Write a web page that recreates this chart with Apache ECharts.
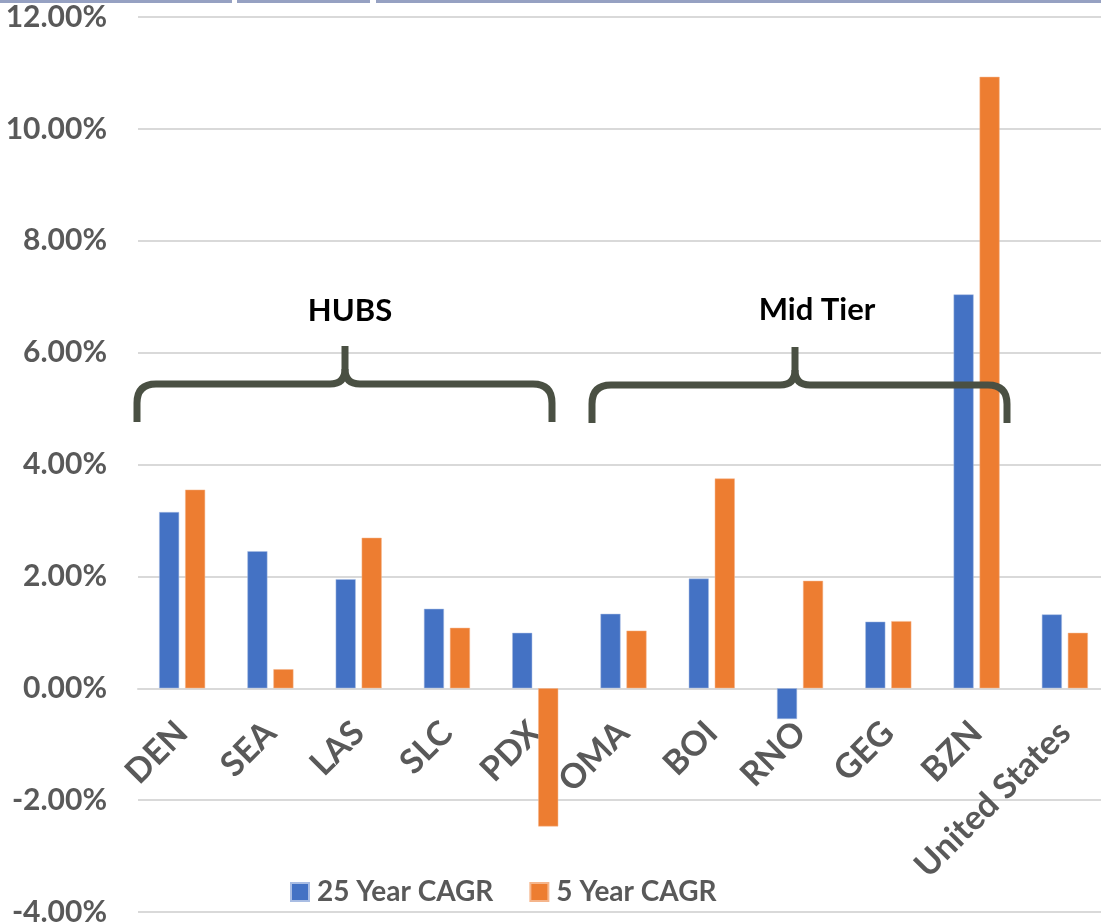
<!DOCTYPE html>
<html>
<head>
<meta charset="utf-8">
<script src="https://cdn.jsdelivr.net/npm/echarts@6/dist/echarts.min.js"></script>
<style>
  html, body { margin: 0; padding: 0; background: #fff; }
  #main { width: 1101px; height: 923px; }
</style>
</head>
<body>
<div id="main"></div>
<script>
var airports = ['DEN', 'SEA', 'LAS', 'SLC', 'PDX', 'OMA', 'BOI', 'RNO', 'GEG', 'BZN', 'United States'];
var cagr25 = [3.15, 2.45, 1.95, 1.42, 0.99, 1.33, 1.96, -0.55, 1.19, 7.04, 1.32];
var cagr5 = [3.55, 0.34, 2.69, 1.08, -2.47, 1.03, 3.75, 1.92, 1.20, 10.93, 0.99];
var seriesNames = ['25 Year CAGR', '5 Year CAGR'];
var groupLabels = ['HUBS', 'Mid Tier'];

var grey = '#595959';
var braceColor = '#4a5043';
var font = 'Lato';

// curly brace made of straight lines and quadratic curves (annotation only)
function brace(left, right, mid, yLine, yBottom, yTop) {
  var st = { stroke: braceColor, lineWidth: 7, fill: 'none' };
  var r = 19;
  var parts = [
    { type: 'line', shape: { x1: left, y1: yBottom, x2: left, y2: yLine + r }, style: st },
    { type: 'bezierCurve', shape: { x1: left, y1: yLine + r, x2: left + r, y2: yLine, cpx1: left, cpy1: yLine }, style: st },
    { type: 'line', shape: { x1: left + r, y1: yLine, x2: mid - 15, y2: yLine }, style: st },
    { type: 'bezierCurve', shape: { x1: mid - 15, y1: yLine, x2: mid, y2: yLine - 15, cpx1: mid, cpy1: yLine }, style: st },
    { type: 'line', shape: { x1: mid, y1: yLine - 15, x2: mid, y2: yTop }, style: st },
    { type: 'bezierCurve', shape: { x1: mid + 15, y1: yLine, x2: mid, y2: yLine - 15, cpx1: mid, cpy1: yLine }, style: st },
    { type: 'line', shape: { x1: mid + 15, y1: yLine, x2: right - r, y2: yLine }, style: st },
    { type: 'bezierCurve', shape: { x1: right - r, y1: yLine, x2: right, y2: yLine + r, cpx1: right, cpy1: yLine }, style: st },
    { type: 'line', shape: { x1: right, y1: yLine + r, x2: right, y2: yBottom }, style: st }
  ];
  parts.forEach(function (p) { p.z = 100; p.silent = true; });
  return parts;
}

var graphics = [
  // cropped strip at the very top of the picture
  { type: 'rect', z: 100, shape: { x: 0, y: 0, width: 232, height: 3 }, style: { fill: '#96a1c2' } },
  { type: 'rect', z: 100, shape: { x: 237, y: 0, width: 133, height: 3 }, style: { fill: '#96a1c2' } },
  { type: 'rect', z: 100, shape: { x: 376, y: 0, width: 725, height: 3 }, style: { fill: '#96a1c2' } },
  { type: 'text', z: 100, x: 350, y: 311,
    style: { text: groupLabels[0], fill: '#000', font: 'bold 31px Lato', align: 'center', verticalAlign: 'middle' } },
  { type: 'text', z: 100, x: 817, y: 310,
    style: { text: groupLabels[1], fill: '#000', font: 'bold 31px Lato', align: 'center', verticalAlign: 'middle' } }
].concat(brace(137, 552, 345, 384, 422, 346), brace(592, 1007, 795, 385, 423, 347));

var gridTop = 17, gridBottom = 11, chartH = 923;

var option = {
  animation: false,
  textStyle: { fontFamily: font },
  grid: { left: 138, right: -8, top: gridTop, bottom: gridBottom, containLabel: false, outerBoundsMode: 'none' },
  legend: {
    left: 285,
    top: 873,
    itemWidth: 18,
    itemHeight: 18,
    itemGap: 36,
    icon: 'rect',
    data: seriesNames,
    textStyle: { color: grey, fontSize: 28, fontWeight: 'bold', fontFamily: font, padding: [0, 0, 0, 3] }
  },
  xAxis: {
    type: 'category',
    data: airports,
    axisLine: { onZero: false, lineStyle: { color: '#d9d9d9', width: 2 } },
    axisTick: { show: false },
    axisLabel: {
      interval: 0,
      rotate: 45,
      margin: 39,
      color: grey,
      fontSize: 34,
      fontWeight: 'bold',
      fontFamily: font
    }
  },
  yAxis: {
    type: 'value',
    min: -4,
    max: 12,
    interval: 2,
    axisLine: { show: false },
    axisTick: { show: false },
    splitLine: { lineStyle: { color: '#d9d9d9', width: 2 } },
    axisLabel: {
      margin: 31,
      color: grey,
      fontSize: 30,
      fontWeight: 'bold',
      fontFamily: font,
      formatter: function (v) { return v.toFixed(2) + '%'; }
    }
  },
  series: [
    {
      name: seriesNames[0],
      type: 'bar',
      data: cagr25,
      barWidth: 20,
      barGap: '30%',
      itemStyle: { color: '#4472c4', borderColor: '#a9bde3', borderWidth: 0.5 }
    },
    {
      name: seriesNames[1],
      type: 'bar',
      data: cagr5,
      barWidth: 20,
      barGap: '30%',
      itemStyle: { color: '#ed7d31', borderColor: '#f5b58b', borderWidth: 0.5 }
    }
  ],
  graphic: graphics
};

var myChart = echarts.init(document.getElementById('main'));
myChart.setOption(option);
// move the category axis (line + labels) up to the zero line
var zeroY = myChart.convertToPixel({ yAxisIndex: 0 }, 0);
myChart.setOption({ xAxis: { offset: -((chartH - gridBottom) - zeroY) } });
</script>
</body>
</html>
